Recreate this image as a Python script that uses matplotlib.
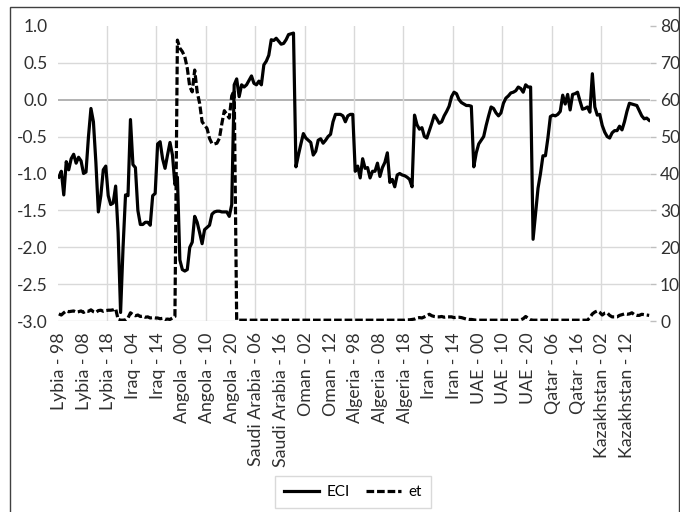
import matplotlib.pyplot as plt
import numpy as np
from matplotlib.patches import Rectangle

plt.rcParams['font.family'] = ['Lato', 'DejaVu Sans']
plt.rcParams['axes.unicode_minus'] = False

countries = ["Lybia", "Iraq", "Angola", "Saudi Arabia", "Oman",
             "Algeria", "Iran", "UAE", "Qatar", "Kazakhstan"]
years = list(range(1998, 2022))

# ECI, 24 yearly values per country (1998-2021)
eci = [
    # Lybia
    -1.05, -0.97, -1.29, -0.84, -0.95, -0.80, -0.74, -0.86, -0.78, -0.83, -1.00, -0.98,
    -0.50, -0.12, -0.30, -0.85, -1.52, -1.30, -0.95, -0.90, -1.30, -1.42, -1.40, -1.17,
    # Iraq
    -1.80, -2.88, -2.00, -1.29, -1.30, -0.27, -0.88, -0.92, -1.50, -1.69, -1.69, -1.66,
    -1.66, -1.70, -1.30, -1.27, -0.60, -0.57, -0.80, -0.93, -0.75, -0.58, -0.75, -1.15,
    # Angola
    -1.05, -2.17, -2.30, -2.32, -2.30, -2.00, -1.93, -1.58, -1.66, -1.80, -1.95, -1.76,
    -1.73, -1.70, -1.55, -1.52, -1.51, -1.51, -1.52, -1.52, -1.52, -1.58, -1.42, 0.20,
    # Saudi Arabia
    0.28, 0.04, 0.20, 0.17, 0.20, 0.26, 0.32, 0.22, 0.20, 0.25, 0.20, 0.47,
    0.52, 0.60, 0.81, 0.80, 0.83, 0.79, 0.75, 0.76, 0.81, 0.88, 0.89, 0.90,
    # Oman
    -0.91, -0.75, -0.60, -0.46, -0.52, -0.55, -0.58, -0.75, -0.70, -0.55, -0.53, -0.59,
    -0.55, -0.50, -0.47, -0.30, -0.20, -0.20, -0.20, -0.22, -0.30, -0.22, -0.20, -0.20,
    # Algeria
    -0.97, -0.90, -1.06, -0.80, -0.93, -0.92, -1.06, -0.97, -0.97, -0.86, -1.04, -0.92,
    -0.85, -0.72, -1.12, -1.08, -1.18, -1.02, -1.00, -1.02, -1.03, -1.05, -1.08, -1.18,
    # Iran
    -0.21, -0.34, -0.40, -0.38, -0.50, -0.52, -0.42, -0.32, -0.21, -0.26, -0.32, -0.30,
    -0.22, -0.16, -0.09, 0.04, 0.10, 0.08, 0.00, -0.04, -0.06, -0.08, -0.08, -0.09,
    # UAE
    -0.91, -0.72, -0.60, -0.55, -0.50, -0.35, -0.22, -0.10, -0.12, -0.18, -0.22, -0.18,
    -0.05, 0.02, 0.05, 0.09, 0.10, 0.12, 0.17, 0.15, 0.10, 0.20, 0.17, 0.17,
    # Qatar
    -1.89, -1.55, -1.20, -1.00, -0.76, -0.76, -0.52, -0.23, -0.21, -0.22, -0.20, -0.16,
    0.06, -0.06, 0.07, -0.14, 0.07, 0.08, 0.10, -0.02, -0.13, -0.12, -0.10, -0.17,
    # Kazakhstan
    0.35, -0.10, -0.21, -0.20, -0.35, -0.44, -0.50, -0.52, -0.45, -0.42, -0.42, -0.36,
    -0.41, -0.30, -0.16, -0.05, -0.06, -0.07, -0.08, -0.15, -0.22, -0.26, -0.25, -0.28,
]

# et (secondary axis)
et = [
    # Lybia
    2.0, 1.7, 2.3, 2.8, 2.6, 2.7, 2.8, 2.5, 2.6, 2.8, 2.4, 2.8,
    2.7, 3.1, 2.6, 2.4, 2.9, 3.0, 2.7, 2.9, 3.0, 3.0, 3.1, 3.4,
    # Iraq
    0.5, 0.3, 0.3, 0.4, 0.9, 2.3, 1.8, 1.5, 1.7, 1.3, 1.4, 1.1,
    1.2, 0.9, 1.0, 0.9, 0.9, 0.7, 0.8, 0.5, 0.6, 0.5, 0.9, 1.3,
    # Angola
    76.1, 73.9, 73.0, 71.6, 68.5, 63.5, 62.1, 68.0, 62.1, 59.0, 54.0, 53.1,
    52.2, 49.5, 48.1, 48.0, 48.2, 49.5, 53.5, 57.0, 56.0, 55.0, 61.0, 62.5,
    # Saudi Arabia
    0.3, 0.3, 0.3, 0.3, 0.3, 0.3, 0.3, 0.3, 0.3, 0.3, 0.3, 0.3,
    0.3, 0.3, 0.3, 0.3, 0.3, 0.3, 0.3, 0.3, 0.3, 0.3, 0.3, 0.3,
    # Oman
    0.3, 0.3, 0.3, 0.3, 0.3, 0.3, 0.3, 0.3, 0.3, 0.3, 0.3, 0.3,
    0.3, 0.3, 0.3, 0.3, 0.3, 0.3, 0.3, 0.3, 0.3, 0.3, 0.3, 0.3,
    # Algeria
    0.3, 0.3, 0.3, 0.3, 0.3, 0.3, 0.3, 0.3, 0.3, 0.3, 0.3, 0.3,
    0.3, 0.3, 0.3, 0.3, 0.3, 0.3, 0.3, 0.3, 0.3, 0.4, 0.4, 0.5,
    # Iran
    0.6, 0.9, 1.0, 0.9, 1.2, 1.5, 1.9, 1.5, 1.3, 1.2, 1.2, 1.3,
    1.1, 1.2, 1.2, 1.2, 1.0, 1.1, 1.1, 1.0, 0.8, 0.6, 0.5, 0.5,
    # UAE
    0.4, 0.3, 0.3, 0.3, 0.3, 0.3, 0.3, 0.3, 0.3, 0.3, 0.3, 0.3,
    0.3, 0.3, 0.3, 0.3, 0.3, 0.3, 0.3, 0.4, 0.7, 1.3, 0.8, 0.4,
    # Qatar
    0.3, 0.3, 0.3, 0.3, 0.3, 0.3, 0.3, 0.3, 0.3, 0.3, 0.3, 0.3,
    0.3, 0.3, 0.3, 0.3, 0.3, 0.3, 0.3, 0.3, 0.3, 0.3, 0.3, 1.0,
    # Kazakhstan
    2.0, 2.5, 2.8, 2.4, 1.7, 2.2, 2.3, 1.6, 1.2, 1.2, 1.2, 1.6,
    1.8, 2.0, 1.9, 2.0, 2.3, 1.8, 1.6, 1.6, 1.9, 1.8, 1.7, 1.6,
]

categories = [f"{c} - {y % 100:02d}" for c in countries for y in years]
x = np.arange(len(categories))

fig = plt.figure(figsize=(6.8, 5.12), dpi=100)
ax = fig.add_axes([57.6 / 680, 1 - 321.3 / 512, 592.8 / 680, 295.6 / 512])

# gridlines
for yv in [0.5, -0.5, -1.0, -1.5, -2.0, -2.5, -3.0]:
    ax.axhline(yv, color="#d9d9d9", lw=1, zorder=0)
ax.axhline(0, color="#a6a6a6", lw=1.2, zorder=0)
for xv in np.arange(19.5, 239, 20):
    ax.axvline(xv, color="#d9d9d9", lw=1, zorder=0)

l1, = ax.plot(x, eci, color="black", lw=2.3)
ax.set_xlim(-0.5, len(x) - 0.5)
ax.set_ylim(-3, 1)
ax.set_yticks(np.arange(-3, 1.01, 0.5))
ax.set_yticklabels([f"{v:.1f}" for v in np.arange(-3, 1.01, 0.5)])
ax.set_xticks(x[::10])
ax.set_xticklabels(categories[::10], rotation=90)
ax.tick_params(axis="y", length=0, pad=7, labelsize=12.5, colors="#303030")
ax.tick_params(axis="x", length=0, pad=8, labelsize=12.8, colors="#303030")

ax2 = ax.twinx()
l2, = ax2.plot(x, et, color="black", lw=2.3, linestyle=(0, (2.4, 0.9)))
ax2.set_ylim(0, 80)
ax2.set_yticks(range(0, 81, 10))
ax2.tick_params(axis="y", length=4, width=1, color="#bfbfbf", pad=3,
                labelsize=12.5, labelcolor="#303030")

for a in (ax, ax2):
    for s in a.spines.values():
        s.set_visible(False)

fig.legend([l1, l2], ["ECI", "et"], loc="center",
           bbox_to_anchor=(353 / 680, 1 - 492 / 512), ncol=2,
           fancybox=False, edgecolor="#d9d9d9", framealpha=1,
           fontsize=11, handlelength=2.3, handletextpad=0.5,
           columnspacing=1.0, borderpad=0.6)

# chart border
fig.patches.append(Rectangle((10 / 680, -0.05), 669 / 680, 1.05 - 7 / 512,
                             transform=fig.transFigure, fill=False,
                             edgecolor="#404040", lw=1))

fig.savefig("out.png", dpi=100)
